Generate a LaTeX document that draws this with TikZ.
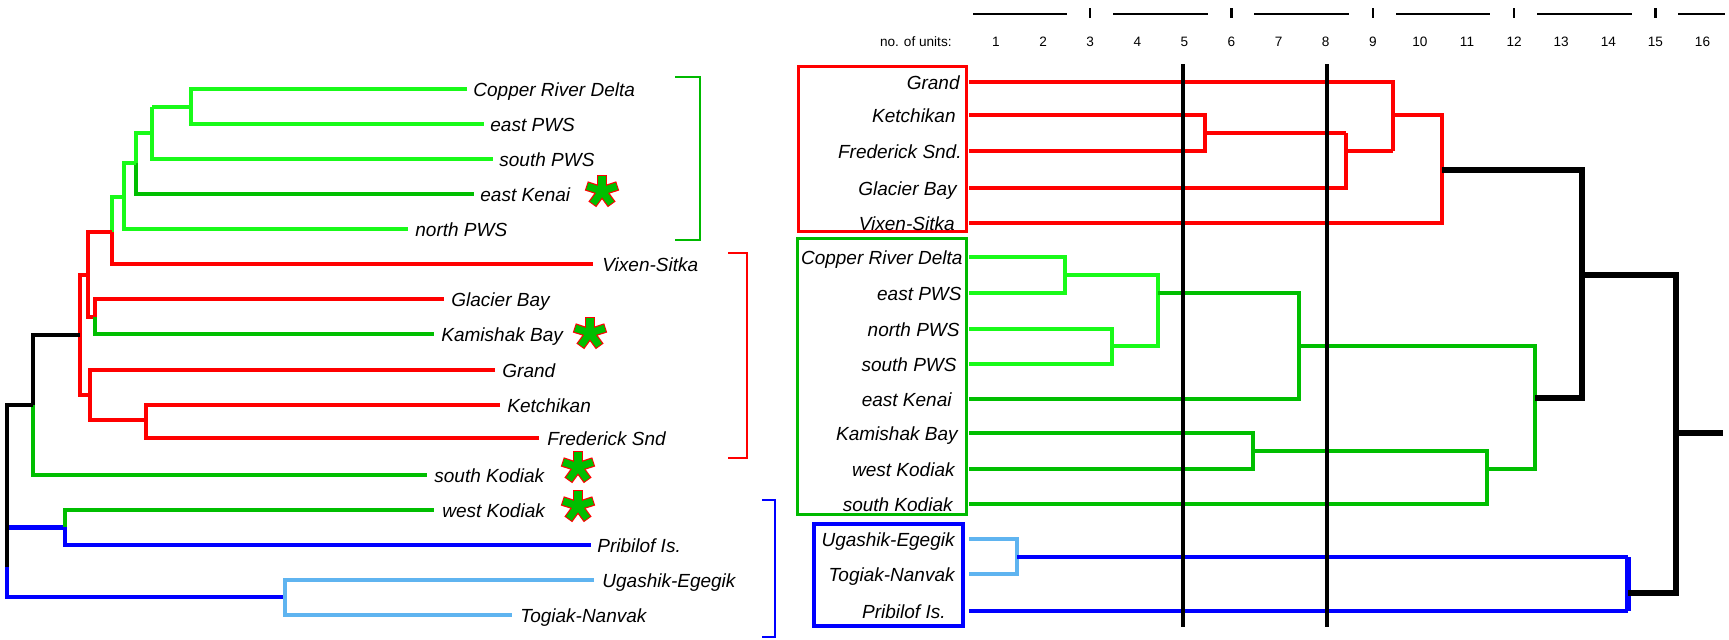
\documentclass[tikz,border=0pt]{standalone}
\usepackage{fontspec}
\setmainfont{Liberation Sans}
\definecolor{lgreen}{RGB}{25,250,25}
\definecolor{dgreen}{RGB}{0,190,0}
\definecolor{bgreen}{RGB}{0,185,0}
\definecolor{myred}{RGB}{255,0,0}
\definecolor{myblue}{RGB}{0,0,255}
\definecolor{lblue}{RGB}{95,180,240}
\tikzset{
  lab/.style={font=\fontsize{9.5}{11}\selectfont\itshape, inner sep=0pt},
  hdr/.style={font=\fontsize{6.8}{8}\selectfont, inner sep=0pt},
  lw/.style={line width=1.7pt},
  rw/.style={line width=2.4pt},
  gstar/.pic={
    \foreach \a in {270,342,54,126,198} \draw[myred, line width=4.8pt] (0,0) -- (\a:16.5);
    \foreach \a in {270,342,54,126,198} \draw[dgreen, line width=3.6pt] (0,0) -- (\a:15.5);
  }
}
\begin{document}
\begin{tikzpicture}[x=0.5pt,y=-0.5pt,line join=miter]
\useasboundingbox (0,0) rectangle (1729,639);

% ---------------- left dendrogram ----------------
\begin{scope}[lw]
\draw[lgreen] (467,89)--(191,89)--(191,124)--(484,124);
\draw[lgreen] (191,107)--(152,107);
\draw[lgreen] (152,107)--(152,159)--(493,159);
\draw[lgreen] (152,133)--(136,133)--(136,163);
\draw[dgreen] (136,163)--(136,194)--(474,194);
\draw[lgreen] (136,163)--(124,163)--(124,229)--(408,229);
\draw[lgreen] (124,197)--(112,197)--(112,232);
\draw[myred] (112,232)--(112,264)--(593,264);
\draw[myred] (112,232)--(88,232)--(88,317)--(95,317)--(95,299)--(444,299);
\draw[dgreen] (95,317)--(95,334)--(434,334);
\draw[myred] (88,275)--(80,275)--(80,395)--(90,395);
\draw[myred] (495,370)--(90,370)--(90,420)--(146,420);
\draw[myred] (500,405)--(146,405)--(146,438)--(539,438);
\draw[dgreen] (33,405)--(33,475)--(427,475);
\draw[myblue, line width=2.5pt] (7,527)--(65,527);
\draw[myblue] (7,527)--(7,597)--(285,597);
\draw[myblue] (65,527)--(65,545)--(591,545);
\draw[dgreen] (65,527)--(65,510)--(434,510);
\draw[lblue] (594,580)--(285,580)--(285,615)--(512,615);
\draw[black] (80,335)--(33,335)--(33,405);
\draw[black] (33,405)--(7,405)--(7,567);
\end{scope}

\foreach \t/\xx/\yy [count=\i] in {Copper River Delta/473/89, east PWS/490/124, south PWS/499/159, east Kenai/480/194, north PWS/415/229, Vixen-Sitka/602/264, Glacier Bay/451/299, Kamishak Bay/441/334, Grand/502/370, Ketchikan/507/405, Frederick Snd/547/438, south Kodiak/434/475, west Kodiak/442/510, Pribilof Is./597/545, Ugashik-Egegik/602/580, Togiak-Nanvak/520/615}
  \node[lab, anchor=base west] (L\i) at (\xx,\yy+7) {\t};

\pic at (602,191) {gstar};
\pic at (590,333) {gstar};
\pic at (578,467) {gstar};
\pic at (578,506) {gstar};

% brackets
\draw[bgreen, line width=1.4pt] (675,77)--(700,77)--(700,240)--(675,240);
\draw[myred, line width=1.2pt] (728,253)--(747,253)--(747,458)--(728,458);
\draw[myblue, line width=1.2pt] (762,500)--(775,500)--(775,637)--(762,637);

% ---------------- header scale ----------------
\foreach \a/\b in {973/1067,1113/1208,1254/1349,1396/1490,1537/1632,1678/1725}
  \draw[line width=1.3pt] (\a,14)--(\b,14);
\foreach \n in {3,6,9,12,15}
  \draw[line width=1.1pt] ({996+47.1*(\n-1)},8)--({996+47.1*(\n-1)},18);
\node[hdr, anchor=base east] (units) at (952,46.5) {no. of units:};
\foreach \n in {1,...,16}
  \node[hdr, anchor=base] (u\n) at ({996+47.1*(\n-1)},46.5) {\n};

% ---------------- right dendrogram ----------------
\draw[myred, line width=1.5pt] (798,66) rectangle (966,231);
\draw[bgreen, line width=1.5pt] (797,238) rectangle (966,514);
\draw[myblue, line width=2.1pt] (814,524) rectangle (963,626);

\begin{scope}[rw]
\draw[myred] (969,115)--(1205,115)--(1205,151)--(969,151);
\draw[myred] (1205,133)--(1346,133);
\draw[myred] (1346,133)--(1346,188)--(969,188);
\draw[myred] (1346,151)--(1393,151);
\draw[myred] (969,82)--(1393,82)--(1393,151);
\draw[myred] (1393,115)--(1442,115)--(1442,223)--(969,223);
\draw[lgreen] (969,257)--(1065,257)--(1065,293)--(969,293);
\draw[lgreen] (969,329)--(1112,329)--(1112,364)--(969,364);
\draw[lgreen] (1065,275)--(1158,275)--(1158,346)--(1112,346);
\draw[dgreen] (1158,293)--(1299,293)--(1299,399)--(969,399);
\draw[dgreen] (969,433)--(1253,433)--(1253,469)--(969,469);
\draw[dgreen] (1253,451)--(1487,451)--(1487,504)--(969,504);
\draw[dgreen] (1299,346)--(1535,346)--(1535,469)--(1487,469);
\draw[lblue] (969,539)--(1017,539)--(1017,574)--(969,574);
\draw[myblue] (1017,557)--(1628,557);
\draw[myblue, line width=3pt] (1628,557)--(1628,611);
\draw[myblue] (1628,611)--(969,611);
\draw[black, line width=2.6pt] (1442,170)--(1582,170)--(1582,398)--(1535,398);
\draw[black, line width=2.6pt] (1582,275)--(1676,275)--(1676,593)--(1628,593);
\draw[black, line width=2.6pt] (1676,433)--(1723,433);
\end{scope}

\draw[black, line width=1.7pt] (1183,64)--(1183,627);
\draw[black, line width=1.7pt] (1327,64)--(1327,627);

\foreach \t/\yy/\xx [count=\i] in {Grand/82/960, Ketchikan/115/956, Frederick Snd./151/962, Glacier Bay/188/957, Vixen-Sitka/223/955, Copper River Delta/257/963, east PWS/293/962, north PWS/329/960, south PWS/364/957, east Kenai/399/952, Kamishak Bay/433/958, west Kodiak/469/955, south Kodiak/504/953, Ugashik-Egegik/539/955, Togiak-Nanvak/574/955, Pribilof Is./611/946}
  \node[lab, anchor=base east] (R\i) at (\xx,\yy+7) {\t};
\end{tikzpicture}
\end{document}
